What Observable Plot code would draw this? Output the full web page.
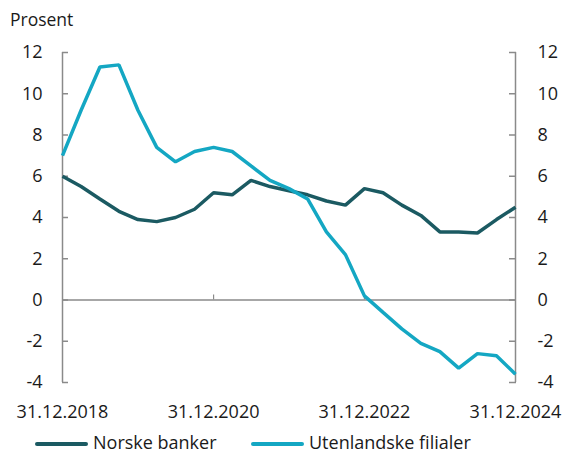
<!DOCTYPE html>
<html>
<head>
<meta charset="utf-8">
<script src="https://cdn.jsdelivr.net/npm/d3@7"></script>
<script src="https://cdn.jsdelivr.net/npm/@observablehq/plot@0.6"></script>
<style>
  body { margin: 0; background: #fff; font-family: "Open Sans", sans-serif; color: #1a1a1a; }
  #wrap { width: 564px; height: 454px; position: relative; }
  #title { height: 36px; line-height: 38px; padding-left: 10px; font-size: 17.5px; box-sizing: border-box; }
  #legend { position: absolute; left: 0; bottom: 0; width: 564px; height: 25px; font-size: 18px; }
  .item { position: absolute; bottom: 0; white-space: nowrap; line-height: normal; }
  .sw { display: inline-block; width: 53px; height: 4px; border-radius: 2px; vertical-align: middle; margin-right: 5px; }
</style>
</head>
<body>
<div id="wrap">
  <div id="title">Prosent</div>
  <div id="chart"></div>
  <div id="legend"></div>
</div>
<script>
const dates = [
  "2018-12-31","2019-03-31","2019-06-30","2019-09-30","2019-12-31",
  "2020-03-31","2020-06-30","2020-09-30","2020-12-31",
  "2021-03-31","2021-06-30","2021-09-30","2021-12-31",
  "2022-03-31","2022-06-30","2022-09-30","2022-12-31",
  "2023-03-31","2023-06-30","2023-09-30","2023-12-31",
  "2024-03-31","2024-06-30","2024-09-30","2024-12-31"
];
const norskeBanker = [
  6.0, 5.5, 4.9, 4.3, 3.9,
  3.8, 4.0, 4.4, 5.2,
  5.1, 5.8, 5.5, 5.3,
  5.1, 4.8, 4.6, 5.4,
  5.2, 4.6, 4.1, 3.3,
  3.3, 3.25, 3.9, 4.5
];
const utenlandskeFilialer = [
  7.0, 9.2, 11.3, 11.4, 9.2,
  7.4, 6.7, 7.2, 7.4,
  7.2, 6.5, 5.8, 5.4,
  4.9, 3.3, 2.2, 0.2,
  -0.6, -1.4, -2.1, -2.5,
  -3.3, -2.6, -2.7, -3.6
];
const seriesNames = ["Norske banker", "Utenlandske filialer"];
const seriesColors = ["#1b5a62", "#14a7c3"];
const yTicks = [-4, -2, 0, 2, 4, 6, 8, 10, 12];
const xTickDates = ["2018-12-31", "2020-12-31", "2022-12-31", "2024-12-31"];

const parse = d3.utcParse("%Y-%m-%d");
const X = dates.map(parse);
const xTicks = xTickDates.map(parse);
const rows = [];
X.forEach((d, i) => {
  rows.push({date: d, value: norskeBanker[i], series: seriesNames[0]});
  rows.push({date: d, value: utenlandskeFilialer[i], series: seriesNames[1]});
});

const axisColor = "#8a8a8a";
const yFmt = d => String(d);
const chart = Plot.plot({
  width: 564,
  height: 396,
  marginLeft: 62,
  marginRight: 49,
  marginTop: 16,
  marginBottom: 50,
  style: {fontFamily: "Open Sans, sans-serif", fontSize: "18px", color: "#1a1a1a", background: "#fff"},
  x: {type: "utc", domain: [X[0], X[X.length - 1]]},
  y: {domain: [-4, 12]},
  color: {domain: seriesNames, range: seriesColors},
  marks: [
    Plot.ruleY([0], {stroke: axisColor, strokeWidth: 1.5}),
    Plot.ruleX([X[0], X[X.length - 1]], {stroke: axisColor, strokeWidth: 1.5}),
    Plot.ruleX(xTicks.slice(1, -1), {y1: 0, y2: 0, insetBottom: 5, stroke: axisColor, strokeWidth: 1.2}),
    Plot.axisY({anchor: "left", ticks: yTicks, tickSize: -6, tickPadding: 26, stroke: axisColor, strokeWidth: 1.5, label: null, tickFormat: yFmt}),
    Plot.axisY({anchor: "right", ticks: yTicks, tickSize: -7, tickPadding: 29, stroke: axisColor, strokeWidth: 1.5, label: null, tickFormat: yFmt}),
    Plot.axisX({anchor: "bottom", ticks: xTicks, tickSize: 0, tickPadding: 22.5, tickFormat: d3.utcFormat("%d.%m.%Y"), label: null}),
    Plot.line(rows, {x: "date", y: "value", stroke: "series", strokeWidth: 3.5, strokeLinejoin: "miter", strokeLinecap: "butt"})
  ]
});
document.getElementById("chart").appendChild(chart);

const legend = document.getElementById("legend");
const lefts = [35, 251];
seriesNames.forEach((name, i) => {
  const item = document.createElement("div");
  item.className = "item";
  item.style.left = lefts[i] + "px";
  const sw = document.createElement("span");
  sw.className = "sw";
  sw.style.background = seriesColors[i];
  item.appendChild(sw);
  item.appendChild(document.createTextNode(name));
  legend.appendChild(item);
});
</script>
</body>
</html>
